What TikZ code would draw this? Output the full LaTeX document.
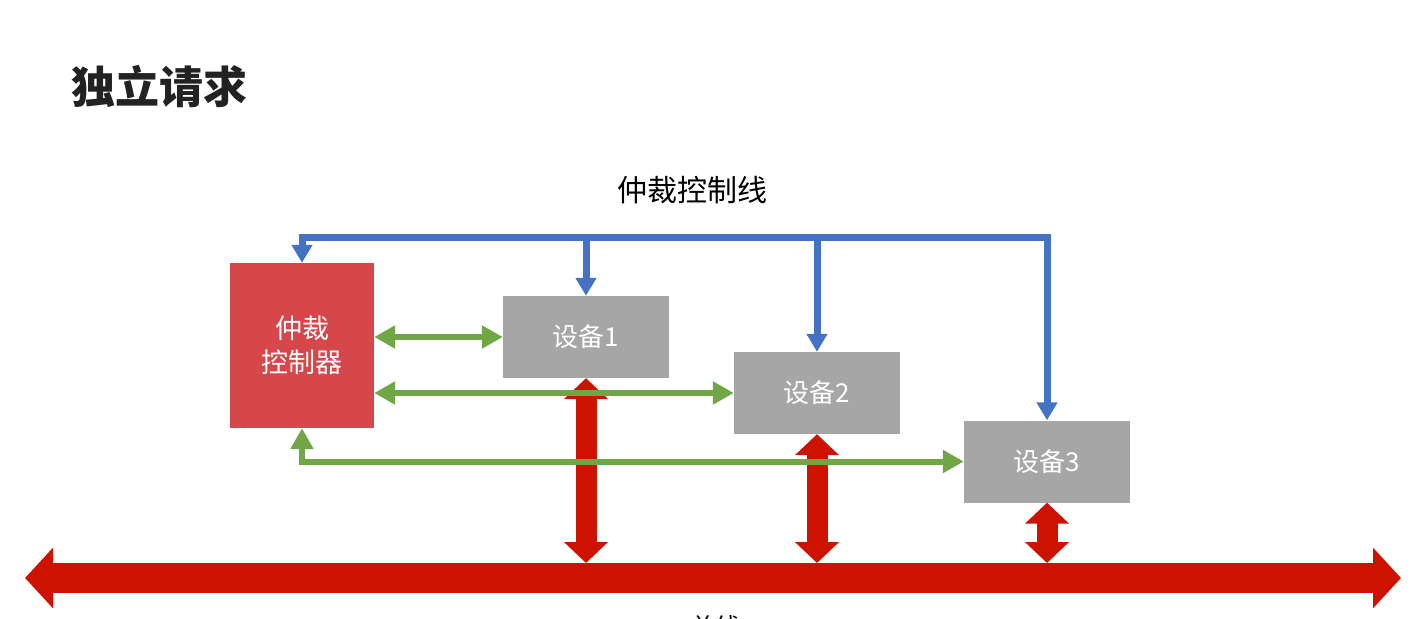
\documentclass[tikz,border=0pt]{standalone}
\usepackage{fontspec}
\setmainfont{Noto Sans CJK SC}
\newfontfamily\cjk{Noto Sans CJK SC}
\usetikzlibrary{arrows.meta}
\definecolor{arbred}{HTML}{D5474B}
\definecolor{devgrey}{HTML}{A6A6A6}
\definecolor{gline}{HTML}{70A646}
\definecolor{bline}{HTML}{4472C4}
\definecolor{busred}{HTML}{CD1300}
\definecolor{ttl}{HTML}{222222}
\tikzset{
  arbbox/.style={fill=arbred,draw=none,minimum width=144pt,minimum height=165pt,inner sep=0pt,text=white,align=center,font=\cjk\fontsize{27}{34}\selectfont},
  devbox/.style={fill=devgrey,draw=none,minimum width=166pt,minimum height=82pt,inner sep=0pt,text=white,font=\cjk\fontsize{26}{30}\selectfont},
  greenln/.style={draw=gline,line width=6pt,{Triangle[width=22pt,length=21pt]}-{Triangle[width=22pt,length=21pt]}},
  greenone/.style={draw=gline,line width=6pt,-{Triangle[width=22pt,length=21pt]}},
  blueln/.style={draw=bline,line width=7pt,-{Triangle[width=20pt,length=18pt]}},
  bluetwo/.style={draw=bline,line width=7pt,{Triangle[width=20pt,length=18pt]}-{Triangle[width=20pt,length=18pt]}},
  devarrow/.style={draw=busred,line width=21pt,{Triangle[width=43pt,length=21pt]}-{Triangle[width=43pt,length=21pt]}},
  busarrow/.style={draw=busred,line width=30pt,{Triangle[width=59pt,length=28pt]}-{Triangle[width=59pt,length=28pt]}},
  lbl/.style={inner sep=0pt,font=\cjk\fontsize{30}{34}\selectfont,text=black}
}
\begin{document}
\begin{tikzpicture}[x=1pt,y=-1pt]
\useasboundingbox[fill=white] (0,0) rectangle (1420,618);
\node[inner sep=0pt,text=ttl,font=\cjk\bfseries\fontsize{44}{48}\selectfont] (title) at (159,86) {独立请求};
\node[lbl] (ctl) at (692,190) {仲裁控制线};
\node[arbbox] (arb) at (302,345.5) {仲裁\\控制器};
\node[devbox] (d1) at (586,337) {设备1};
\node[devbox] (d2) at (817,393) {设备2};
\node[devbox] (d3) at (1047,461.5) {设备3};
\coordinate (busl) at (25,578);
\coordinate (busr) at (1401,578);
\coordinate (bustop) at (0,563);
\coordinate (top) at (0,237);
% bus
\draw[busarrow] (busl) -- (busr);
\node[inner sep=0pt,anchor=north,font=\cjk\fontsize{25}{28}\selectfont,text=black] (buslbl) at (715,615) {总线};
% device to bus
\draw[devarrow] (d1.south) -- (d1.south |- bustop);
\draw[devarrow] (d2.south) -- (d2.south |- bustop);
\draw[devarrow] (d3.south) -- (d3.south |- bustop);
% green
\draw[greenln] (arb.east |- d1.west) -- (d1.west);
\draw[greenln] (arb.east |- d2.west) -- (d2.west);
\draw[greenln] (d3.west) -- (arb.south |- d3.west) -- (arb.south);
% blue
\draw[bluetwo] (arb.north) -- (arb.north |- top) -- (d3.north |- top) -- (d3.north);
\draw[blueln] (d1.north |- top) -- (d1.north);
\draw[blueln] (d2.north |- top) -- (d2.north);
\end{tikzpicture}
\end{document}
